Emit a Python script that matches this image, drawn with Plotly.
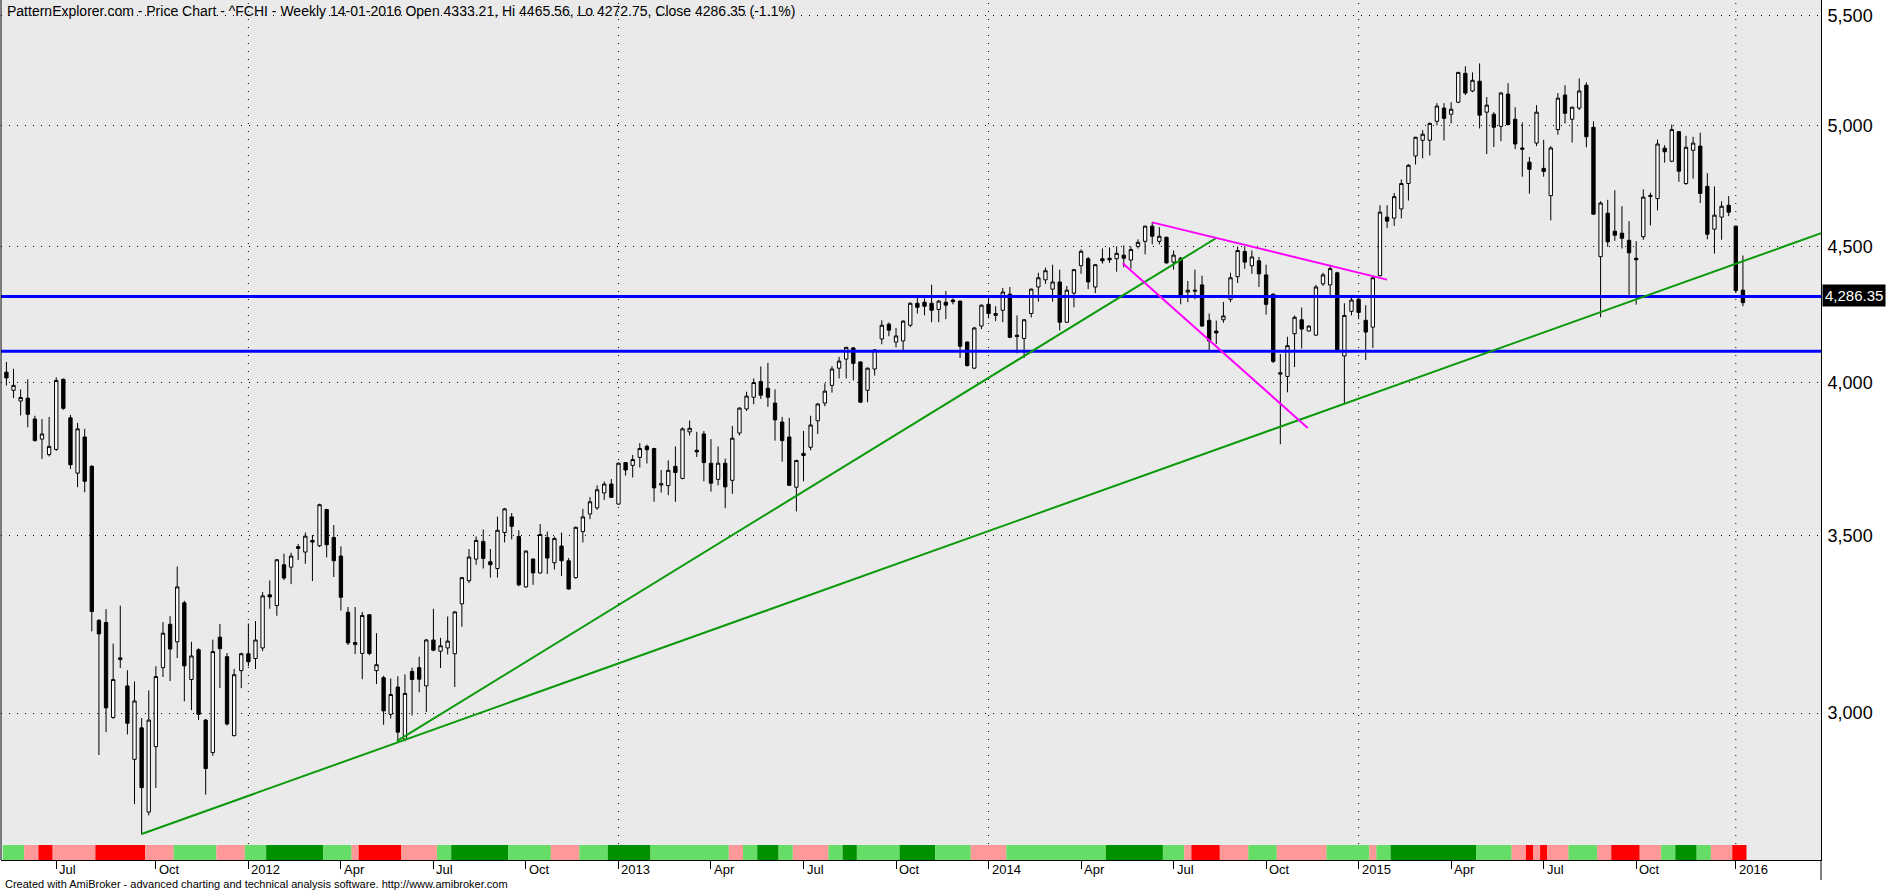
import math
import pandas as pd
import plotly.graph_objects as go

# ---------------- data ----------------
first_week = "2011-05-13"          # weekly bars (Fridays)
n_weeks = 245
week_dates = pd.date_range(first_week, periods=n_weeks, freq="7D")

opens = [4035,3972,3935,3945,3874,3807,3756,3773,4010,3878,3696,3814,3718,3252,3246,2989,3143,3072,2882,2962,
         2753,2914,3121,3241,3192,3302,3089,3170,2982,2899,3205,3151,2942,3113,3159,3146,3175,3325,3294,3413,
         3406,3467,3451,3486,3470,3581,3495,3439,3275,3184,3160,3268,3113,3094,2997,3069,2933,3111,3121,3072,
         3197,3166,3175,3159,3299,3366,3430,3483,3422,3402,3510,3558,3498,3348,3430,3389,3495,3419,3469,3425,
         3375,3513,3567,3586,3633,3661,3598,3730,3721,3747,3783,3776,3658,3656,3718,3679,3831,3770,3824,3728,
         3676,3728,3673,3827,3908,3948,4002,3979,3928,3864,3814,3651,3760,3780,3868,3928,3989,4049,4081,4121,
         4071,3972,4046,4153,4207,4142,4146,4203,4284,4288,4284,4261,4288,4296,4292,4142,4049,4200,4280,4239,
         4258,4318,4167,4155,4246,4345,4372,4337,4364,4214,4322,4426,4453,4345,4453,4455,4453,4467,4448,4501,
         4521,4581,4521,4537,4440,4455,4326,4333,4353,4221,4182,4223,4299,4384,4481,4426,4445,4391,4318,4028,
         4020,4172,4223,4182,4167,4357,4353,4399,4092,4254,4299,4221,4196,4388,4617,4613,4650,4754,4869,4936,
         4936,5018,5076,5049,5102,5232,5152,5196,5058,5049,4996,5138,5027,4903,4843,4924,4817,4704,4982,5134,
         5027,5076,5178,4992,4461,4633,4561,4553,4525,4455,4539,4700,4692,4902,4847,4973,4754,4893,4911,4742,
         4569,4617,4665,4581,4333.21]
highs = [4071,4047,3975,4010,3885,3874,3881,4017,4013,3888,3861,3841,3722,3256,3284,3187,3294,3114,3084,2987,
         3060,3125,3247,3264,3408,3308,3192,3174,2985,3198,3242,3161,3118,3162,3243,3250,3333,3367,3430,3446,
         3449,3475,3510,3502,3599,3583,3533,3468,3290,3290,3276,3270,3216,3099,3092,3098,3103,3121,3151,3200,
         3285,3203,3263,3278,3377,3460,3498,3519,3460,3559,3586,3570,3517,3456,3432,3536,3513,3498,3510,3433,
         3528,3583,3620,3657,3669,3677,3730,3732,3755,3794,3789,3778,3706,3737,3783,3846,3869,3831,3834,3807,
         3783,3743,3851,3913,3967,4013,4055,4068,3975,3881,3878,3739,3834,3885,3927,3996,4056,4089,4124,4124,
         4073,4051,4116,4221,4213,4193,4221,4287,4308,4302,4354,4296,4330,4302,4294,4144,4197,4279,4314,4273,
         4341,4345,4239,4225,4339,4399,4419,4430,4411,4349,4413,4489,4460,4432,4493,4497,4501,4505,4501,4529,
         4583,4597,4577,4539,4485,4460,4368,4411,4388,4246,4220,4289,4399,4501,4501,4485,4460,4430,4320,4099,
         4161,4239,4268,4202,4353,4399,4430,4403,4284,4307,4310,4277,4382,4665,4665,4715,4771,4835,4951,4980,
         5012,5098,5098,5102,5238,5264,5236,5277,5125,5058,5147,5187,5080,5013,4865,5089,4938,4911,5143,5178,
         5082,5209,5191,5018,4681,4687,4726,4661,4601,4521,4730,4716,4939,4915,5004,4975,4955,4951,4969,4797,
         4742,4681,4702,4583,4465.56]
lows = [3988,3945,3886,3846,3799,3742,3750,3768,3905,3709,3651,3635,3221,2893,2951,2985,3120,2945,2772,2700,
        2745,2811,3096,3085,3147,3031,3008,2982,2795,2891,3066,2968,2940,3066,3125,3117,3166,3285,3265,3368,
        3356,3427,3416,3365,3466,3435,3377,3280,3183,3158,3090,3155,3077,2970,2986,2924,2928,2994,3055,3003,
        3166,3120,3157,3069,3234,3359,3413,3402,3375,3375,3480,3489,3350,3346,3354,3387,3386,3399,3380,3340,
        3372,3480,3551,3580,3611,3617,3596,3688,3682,3714,3727,3605,3634,3626,3605,3676,3819,3748,3670,3637,
        3657,3585,3630,3819,3901,3924,3942,3915,3802,3733,3655,3575,3670,3770,3824,3917,3964,4013,4013,4006,
        3929,3931,4023,4134,4163,4123,4110,4196,4246,4239,4214,4214,4225,4280,4085,4055,4047,4189,4228,4218,
        4214,4156,4102,4085,4231,4290,4357,4290,4184,4212,4269,4395,4337,4322,4434,4437,4403,4420,4415,4493,
        4470,4509,4509,4434,4411,4280,4288,4299,4198,4110,4135,4212,4288,4360,4414,4395,4345,4242,4067,3790,
        3965,4053,4119,4180,4165,4349,4310,4106,3928,4239,4225,4078,4121,4386,4573,4582,4612,4684,4833,4859,
        4871,5000,4935,5009,5098,5134,5147,4987,4877,4907,4932,5000,4898,4782,4712,4911,4782,4604,4960,5009,
        4926,5067,4906,4627,4232,4499,4523,4493,4309,4279,4527,4584,4644,4841,4843,4761,4748,4774,4674,4529,
        4473,4527,4621,4322,4272.75]
closes = [4015,3989,3947,3890,3802,3824,3783,4006,3910,3723,3841,3670,3277,3214,3014,3089,3148,2974,3032,2812,
          2982,3097,3216,3172,3348,3126,3153,2997,2859,3165,3173,2972,3102,3159,3137,3197,3322,3319,3428,3374,
          3439,3462,3499,3481,3596,3473,3425,3318,3189,3190,3266,3160,3129,3006,3049,2951,3052,3089,3090,3197,
          3169,3181,3194,3276,3375,3436,3486,3432,3413,3517,3583,3529,3354,3454,3389,3504,3433,3492,3425,3342,
          3526,3558,3605,3643,3661,3619,3728,3706,3740,3776,3772,3649,3662,3705,3698,3841,3843,3765,3730,3664,
          3728,3652,3810,3911,3952,3999,3955,3948,3871,3802,3657,3737,3753,3854,3925,3969,4046,4074,4123,4066,
          3931,4049,4114,4203,4185,4164,4218,4284,4269,4273,4258,4292,4277,4290,4127,4058,4193,4277,4246,4246,
          4326,4159,4162,4223,4337,4380,4407,4364,4214,4333,4411,4482,4364,4430,4445,4449,4474,4455,4489,4517,
          4581,4541,4541,4437,4467,4310,4333,4330,4200,4146,4175,4237,4380,4485,4440,4460,4395,4280,4073,4033,
          4129,4232,4189,4200,4345,4391,4415,4108,4239,4296,4250,4178,4380,4637,4601,4700,4754,4830,4949,4962,
          5009,5085,5031,5071,5236,5143,5200,5045,5089,4992,5143,5004,4920,4898,4813,5058,4804,4903,5120,5053,
          5080,5152,4951,4629,4674,4519,4545,4533,4476,4449,4698,4705,4920,4887,4982,4805,4906,4924,4713,4549,
          4625,4661,4637,4332,4286.35]

# bottom indicator ribbon (run-length: colour code, number of weeks)
ribbon_codes = ["LG","P","R","P","R","P","LG","P","LG","DG","LG","P","R","P","LG","DG","LG","P","LG","DG",
                "LG","P","LG","DG","LG","P","LG","DG","LG","DG","LG","P","LG","DG","LG","P","R","P","LG","P",
                "LG","P","LG","DG","LG","P","R","P","R","P","LG","P","R","P","LG","DG","LG","P","R"]
ribbon_lengths = [3,2,2,6,7,4,6,4,3,8,4,1,6,5,2,8,6,4,4,6,
                  11,2,2,3,2,5,2,2,6,5,5,5,14,8,3,1,4,4,4,7,
                  6,1,2,12,5,2,1,1,1,3,4,2,4,3,2,3,2,3,2]

# x-axis quarter ticks
tick_dates = ["2011-07-01","2011-10-07","2012-01-06","2012-04-06","2012-07-06","2012-10-05","2013-01-04",
              "2013-04-05","2013-07-05","2013-10-04","2014-01-03","2014-04-04","2014-07-04","2014-10-03",
              "2015-01-02","2015-04-03","2015-07-03","2015-10-02","2016-01-08"]
tick_labels = ["Jul","Oct","2012","Apr","Jul","Oct","2013","Apr","Jul","Oct","2014","Apr","Jul","Oct",
               "2015","Apr","Jul","Oct","2016"]
year_dates = ["2012-01-06","2013-01-04","2014-01-03","2015-01-02","2016-01-08"]

# y-axis ticks
price_ticks = [3000, 3500, 4000, 4500, 5000, 5500]
price_tick_labels = ["3,000", "3,500", "4,000", "4,500", "5,000", "5,500"]

# drawn trend lines (date, price)
green_long_dates = ["2011-09-23", "2016-04-01"]
green_long_prices = [2701, 4553]
green_steep_dates = ["2012-05-31", "2014-08-15"]
green_steep_prices = [2928, 4534]
pink_upper_dates = ["2014-06-13", "2015-01-30"]
pink_upper_prices = [4596, 4373]
pink_lower_dates = ["2014-05-15", "2014-11-13"]
pink_lower_prices = [4436, 3844]
blue_levels = [4309, 4109]

last_close = 4286.35
title_text = ("PatternExplorer.com - Price Chart - ^FCHI - Weekly 14-01-2016 Open 4333.21, "
              "Hi 4465.56, Lo 4272.75, Close 4286.35 (-1.1%)")
footer_text = ("Created with AmiBroker - advanced charting and technical analysis software. "
               "http://www.amibroker.com")

# ---------------- styling ----------------
FONT = "Liberation Sans, Arial, sans-serif"
BG = "#EAEAEA"
ribbon_colors = {"LG": "#66DD66", "DG": "#009100", "P": "#FF9999", "R": "#FF0000"}
week = pd.Timedelta(days=7)
x_start = week_dates[0] - 0.76 * week
x_end = week_dates[0] + 254.97 * week
y_lo, y_hi = 2640.6, 5576.0

fig = go.Figure()

fig.add_trace(go.Candlestick(
    x=week_dates, open=opens, high=highs, low=lows, close=closes,
    increasing=dict(line=dict(color="black", width=1), fillcolor="white"),
    decreasing=dict(line=dict(color="black", width=1), fillcolor="black"),
    whiskerwidth=0, showlegend=False, hoverinfo="skip"))

def add_line(xs, ys, color, width):
    fig.add_trace(go.Scatter(x=pd.to_datetime(xs), y=ys, mode="lines",
                             line=dict(color=color, width=width),
                             showlegend=False, hoverinfo="skip"))

for lvl in blue_levels:
    add_line([x_start, x_end], [lvl, lvl], "#0000FF", 3)
add_line(green_long_dates, green_long_prices, "#0A9A0A", 2)
add_line(green_steep_dates, green_steep_prices, "#0A9A0A", 2)
add_line(pink_upper_dates, pink_upper_prices, "#FF00FF", 2)
add_line(pink_lower_dates, pink_lower_prices, "#FF00FF", 2)

shapes = []
# year grid lines (dotted)
for d in year_dates:
    shapes.append(dict(type="line", xref="x", yref="paper", x0=d, x1=d, y0=0, y1=1,
                       line=dict(color="black", width=1, dash="1px,7px"), layer="below"))
# ribbon
pos = 0
half = pd.Timedelta(days=3.5)
for code, n in zip(ribbon_codes, ribbon_lengths):
    x0 = week_dates[pos] - half
    x1 = week_dates[pos + n - 1] + half
    shapes.append(dict(type="rect", xref="x", yref="paper", x0=x0, x1=x1, y0=0, y1=15 / 860,
                       fillcolor=ribbon_colors[code], line=dict(width=0), layer="above"))
    pos += n
# left border and right axis extension
shapes.append(dict(type="line", xref="paper", yref="paper", x0=0, x1=0, y0=0, y1=1,
                   line=dict(color="black", width=1)))
shapes.append(dict(type="line", xref="paper", yref="paper", x0=1, x1=1, y0=0, y1=-20 / 860,
                   line=dict(color="black", width=1)))

annotations = []
for d, lab in zip(tick_dates, tick_labels):
    annotations.append(dict(x=d, y=0, xref="x", yref="paper", text=lab, showarrow=False,
                            xanchor="left", yanchor="top", xshift=1, yshift=0,
                            font=dict(family=FONT, size=13, color="black")))
annotations.append(dict(x=0, y=1, xref="paper", yref="paper", text=title_text, showarrow=False,
                        xanchor="left", yanchor="top", xshift=4, yshift=-1,
                        font=dict(family=FONT, size=14, color="black")))
annotations.append(dict(x=0, y=-24 / 860, xref="paper", yref="paper", text=footer_text, showarrow=False,
                        xanchor="left", yanchor="middle", xshift=2,
                        font=dict(family=FONT, size=11, color="black")))
annotations.append(dict(x=1, y=math.log10(last_close), xref="paper", yref="y",
                        text=f"{last_close:,.2f}", showarrow=False, xanchor="left", yanchor="middle",
                        xshift=1, yshift=7, bgcolor="black", font=dict(family=FONT, size=15, color="white"),
                        borderpad=2))

fig.update_layout(
    width=1891, height=892,
    margin=dict(l=1, r=70, t=0, b=32),
    paper_bgcolor="white", plot_bgcolor=BG,
    showlegend=False, boxgap=0.33,
    shapes=shapes, annotations=annotations,
    xaxis=dict(type="date", range=[x_start, x_end], showgrid=False, zeroline=False,
               tickvals=pd.to_datetime(tick_dates), showticklabels=False,
               ticks="outside", ticklen=8, tickcolor="black", tickwidth=1,
               showline=True, linecolor="black", linewidth=1,
               rangeslider=dict(visible=False), fixedrange=True),
    yaxis=dict(type="log", side="right", range=[math.log10(y_lo), math.log10(y_hi)],
               tickvals=price_ticks, ticktext=price_tick_labels,
               showgrid=True, gridcolor="black", gridwidth=1, griddash="1px,7px",
               zeroline=False, showline=True, linecolor="black", linewidth=1,
               ticks="", ticklabelstandoff=2,
               tickfont=dict(family=FONT, size=18, color="black"), fixedrange=True),
)

fig.write_html("out.html", config={"displayModeBar": False},
               post_script="document.body.style.margin='0px';document.body.style.overflow='hidden';")
